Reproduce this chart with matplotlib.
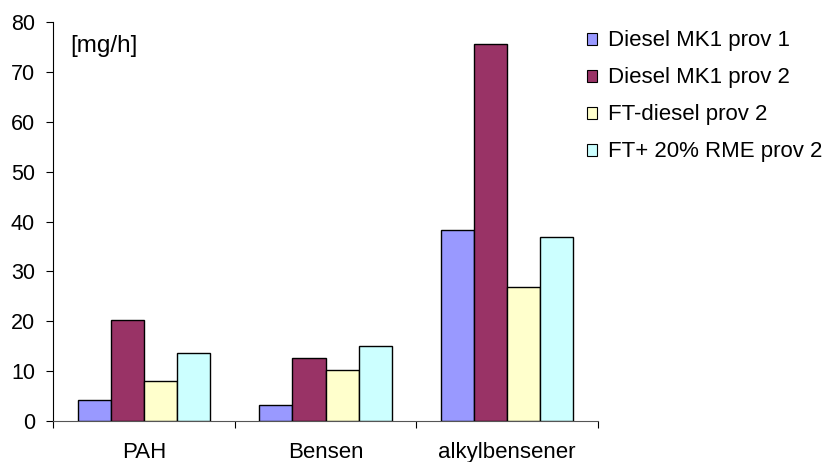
import numpy as np
import matplotlib.pyplot as plt
from matplotlib.patches import Patch

plt.rcParams['font.family'] = ['Liberation Sans', 'DejaVu Sans']

categories = ['PAH', 'Bensen', 'alkylbensener']
series_names = ['Diesel MK1 prov 1', 'Diesel MK1 prov 2',
                'FT-diesel prov 2', 'FT+ 20% RME prov 2']
mk1_prov1 = [4.3, 3.2, 38.3]
mk1_prov2 = [20.2, 12.6, 75.5]
ft_prov2 = [8.1, 10.2, 26.9]
ft_rme_prov2 = [13.7, 15.0, 36.9]
colors = ['#9999FF', '#993366', '#FFFFCC', '#CCFFFF']

series = [mk1_prov1, mk1_prov2, ft_prov2, ft_rme_prov2]

fig = plt.figure(figsize=(8.3, 4.62), dpi=100)
ax = fig.add_axes([0.0639, 0.0887, 0.6566, 0.8636])

x = np.arange(len(categories))
n = len(series)
width = 1.0 / (n + 1.5)
for i, (vals, name, col) in enumerate(zip(series, series_names, colors)):
    offs = (i - (n - 1) / 2) * width
    ax.bar(x + offs, vals, width=width, color=col, edgecolor='black',
           linewidth=1.0, label=name, zorder=3)

ax.set_xlim(-0.5, len(categories) - 0.5)
ax.set_ylim(0, 80)
ax.set_yticks(np.arange(0, 81, 10))
ax.tick_params(axis='y', direction='out', length=5, labelsize=15.5, pad=8)

# category boundaries as major ticks, labels on minor ticks
ax.set_xticks(np.arange(-0.5, len(categories), 1.0))
ax.set_xticklabels([])
ax.set_xticks(x, minor=True)
ax.set_xticklabels(categories, minor=True)
ax.tick_params(axis='x', which='major', direction='out', length=5)
ax.tick_params(axis='x', which='minor', length=0, labelsize=16, pad=15)

for s in ['top', 'right']:
    ax.spines[s].set_visible(False)
ax.spines['left'].set_color('black')
ax.spines['bottom'].set_color('#555555')

ax.text(0.031, 0.94, '[mg/h]', transform=ax.transAxes, fontsize=17.5,
        va='center', ha='left')

handles = [Patch(facecolor=c, edgecolor='black', linewidth=0.8) for c in colors]
fig.legend(handles, series_names, loc='upper left',
           bbox_to_anchor=(0.707, 0.934), frameon=False, fontsize=16,
           handlelength=0.45, handleheight=0.45, handletextpad=0.5,
           labelspacing=0.72, borderpad=0, borderaxespad=0)

fig.savefig('out.png', dpi=100)
